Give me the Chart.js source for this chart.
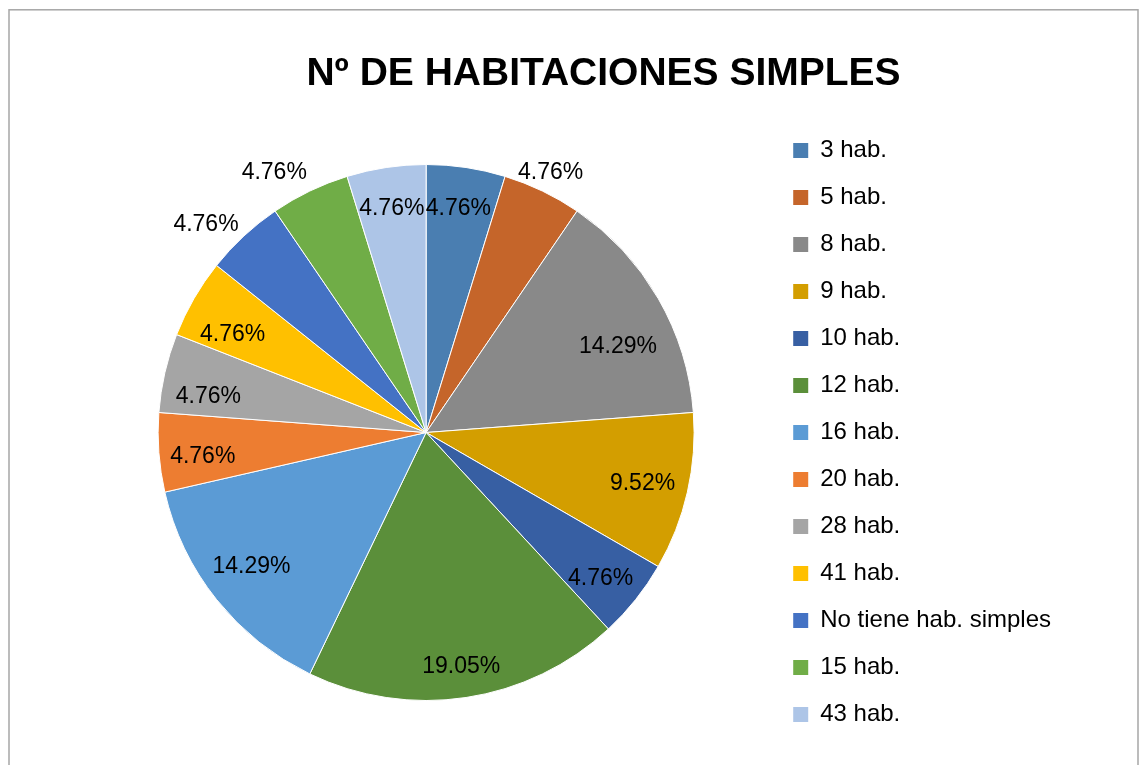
<!DOCTYPE html>
<html lang="es">
<head>
    <meta charset="utf-8" />
    <title>Nº de habitaciones simples</title>
    <script src="https://cdn.jsdelivr.net/npm/chart.js@4"></script>
    <style>
        html, body { margin: 0; padding: 0; background: #fff; }
        #wrap { position: relative; width: 1140px; height: 765px; }
    </style>
</head>
<body>
    <div id="wrap"><canvas id="habChart"></canvas></div>

    <script>
        // datos
        const categories = ['3 hab.', '5 hab.', '8 hab.', '9 hab.', '10 hab.', '12 hab.', '16 hab.',
                            '20 hab.', '28 hab.', '41 hab.', 'No tiene hab. simples', '15 hab.', '43 hab.'];
        const counts = [1, 1, 3, 2, 1, 4, 3, 1, 1, 1, 1, 1, 1];
        const sliceColors = ['#4a7eb1', '#c5652a', '#898989', '#d39e00', '#375fa3', '#5b8f3a', '#5b9bd5',
                             '#ed7d31', '#a5a5a5', '#ffc000', '#4472c4', '#70ad47', '#adc5e7'];

        // where each percentage label sits: fraction of radius, angle nudge in degrees
        const labelRadius = [0.846, 1.079, 0.786, 0.829, 0.846, 0.879, 0.819, 0.838, 0.824, 0.811, 1.133, 1.126, 0.85];
        const labelShift = [-0.4, -0.2, 5.6, 0.2, 1.1, 0, 1.3, -1.7, -3.3, -2.9, -3.6, -4.5, -0.1];

        const total = counts.reduce((a, b) => a + b, 0);

        const frame = {
            id: 'frame',
            beforeDraw(chart) {
                const c = chart.ctx;
                c.save();
                c.fillStyle = '#fff';
                c.fillRect(0, 0, chart.width, chart.height);
                c.strokeStyle = '#a6a6a6';
                c.lineWidth = 1.5;
                c.strokeRect(9, 9.8, 1129, 800);
                c.restore();
            },
            afterDraw(chart) {
                // title drawn here so it can sit over the whole frame, not just the pie
                const c = chart.ctx;
                c.save();
                c.font = 'bold 39px "Liberation Sans", Arial, sans-serif';
                c.fillStyle = '#000';
                c.textAlign = 'center';
                c.textBaseline = 'middle';
                c.fillText('Nº DE HABITACIONES SIMPLES', 603.5, 74.5);
                c.restore();
            }
        };

        const pctLabels = {
            id: 'pctLabels',
            afterDatasetsDraw(chart) {
                const c = chart.ctx;
                const meta = chart.getDatasetMeta(0);
                c.save();
                c.font = '23px "Liberation Sans", Arial, sans-serif';
                c.fillStyle = '#000';
                c.textAlign = 'center';
                c.textBaseline = 'middle';
                meta.data.forEach((arc, i) => {
                    const p = arc.getProps(['startAngle', 'endAngle', 'outerRadius', 'x', 'y'], true);
                    const mid = (p.startAngle + p.endAngle) / 2 + labelShift[i] * Math.PI / 180;
                    const r = p.outerRadius * labelRadius[i];
                    const txt = (counts[i] / total * 100).toFixed(2) + '%';
                    c.fillText(txt, p.x + Math.cos(mid) * r, p.y + Math.sin(mid) * r + 1);
                });
                c.restore();
            }
        };

        const ctx = document.getElementById('habChart').getContext('2d');
        const habChart = new Chart(ctx, {
            type: 'pie',
            data: {
                labels: categories,
                datasets: [{
                    data: counts,
                    backgroundColor: sliceColors,
                    borderColor: '#ffffff',
                    borderWidth: 1,
                    hoverOffset: 0
                }]
            },
            options: {
                responsive: true,
                maintainAspectRatio: false,
                animation: false,
                events: [],
                radius: 268,
                layout: {
                    padding: { left: 82, right: 79, top: 110, bottom: 10 }
                },
                plugins: {
                    title: { display: false },
                    tooltip: { enabled: false },
                    legend: {
                        position: 'right',
                        align: 'center',
                        labels: {
                            boxWidth: 15,
                            boxHeight: 15,
                            padding: 23,
                            color: '#000',
                            font: { family: '"Liberation Sans", Arial, sans-serif', size: 24 },
                            generateLabels(chart) {
                                const items = Chart.overrides.doughnut.plugins.legend.labels.generateLabels(chart);
                                items.forEach(it => { it.lineWidth = 0; });
                                return items;
                            }
                        }
                    }
                }
            },
            plugins: [frame, pctLabels]
        });
    </script>
</body>
</html>
